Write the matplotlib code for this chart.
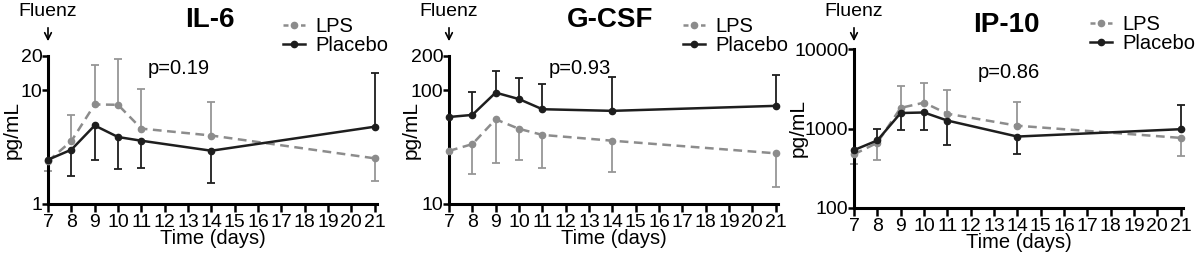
import numpy as np
import matplotlib
matplotlib.use("Agg")
import matplotlib.pyplot as plt
from matplotlib.ticker import FixedLocator, NullLocator, FixedFormatter
from matplotlib.lines import Line2D

plt.rcParams['font.family'] = ['Liberation Sans', 'DejaVu Sans']

days = [7, 8, 9, 10, 11, 14, 21]
x_ticks = list(range(7, 22))

# IL-6
il6_lps = [2.38, 3.57, 7.5, 7.45, 4.6, 4.0, 2.52]
il6_lps_hi = [None, 6.04, 16.8, 18.9, 10.2, 7.9, None]
il6_lps_lo = [1.95, None, None, None, None, None, 1.58]
il6_pla = [2.45, 3.0, 4.9, 3.88, 3.6, 2.94, 4.78]
il6_pla_hi = [None, None, None, None, None, None, 14.2]
il6_pla_lo = [None, 1.75, 2.44, 2.04, 2.09, 1.53, None]

# G-CSF
gcsf_lps = [29.3, 33.6, 55.5, 45.8, 40.5, 36.0, 27.9]
gcsf_lps_hi = [None, None, None, None, None, None, None]
gcsf_lps_lo = [None, 18.2, 22.8, 24.4, 20.8, 19.2, 14.0]
gcsf_pla = [58.2, 60.7, 95.3, 83.6, 68.1, 65.9, 72.9]
gcsf_pla_hi = [None, 97.3, 148.6, 128.0, 113.7, 129.6, 136.0]
gcsf_pla_lo = [None, None, None, None, None, None, None]

# IP-10
ip10_lps = [473, 662, 1818, 2113, 1534, 1084, 762]
ip10_lps_hi = [None, None, 3408, 3760, 3020, 2177, None]
ip10_lps_lo = [354, 407, None, None, None, None, 456]
ip10_pla = [535, 708, 1566, 1590, 1259, 792, 980]
ip10_pla_hi = [None, 1000, None, None, None, None, 1970]
ip10_pla_lo = [None, None, 950, 950, 626, 478, None]

panels = [
    dict(title="IL-6", p="p=0.19", ylim=(1, 20), yticks=[1, 10, 20],
         lps=(il6_lps, il6_lps_lo, il6_lps_hi), pla=(il6_pla, il6_pla_lo, il6_pla_hi),
         box=(48, 377, 56, 204), title_xy=(210, 20), p_xy=(179, 68),
         leg_xy=(283, 17), ylab_x=12, fl_x=48),
    dict(title="G-CSF", p="p=0.93", ylim=(10, 200), yticks=[10, 100, 200],
         lps=(gcsf_lps, gcsf_lps_lo, gcsf_lps_hi), pla=(gcsf_pla, gcsf_pla_lo, gcsf_pla_hi),
         box=(449, 778, 56, 204), title_xy=(610, 20), p_xy=(580, 68),
         leg_xy=(683, 17), ylab_x=411, fl_x=449),
    dict(title="IP-10", p="p=0.86", ylim=(100, 10000), yticks=[100, 1000, 10000],
         lps=(ip10_lps, ip10_lps_lo, ip10_lps_hi), pla=(ip10_pla, ip10_pla_lo, ip10_pla_hi),
         box=(854, 1183, 49, 208), title_xy=(1006, 25), p_xy=(1009, 72),
         leg_xy=(1090, 15), ylab_x=798, fl_x=854),
]

W, H = 1196, 261
fig = plt.figure(figsize=(W / 100, H / 100), dpi=100)

def fx(x):
    return x / W

def fy(y):
    return 1 - y / H

GRAY = '#8c8c8c'
EGRAY = '#969696'
BLACK = '#1e1e1e'

def draw_err(ax, y, lo, hi, color):
    xs, y0, y1 = [], [], []
    for xi, yi, l, h in zip(days, y, lo, hi):
        for bound in (l, h):
            if bound is not None:
                xs.append(xi)
                y0.append(yi)
                y1.append(bound)
    if not xs:
        return
    ax.vlines(xs, y0, y1, colors=color, lw=1.3, zorder=2, clip_on=False)
    ax.plot(xs, y1, ls='none', marker='_', ms=6, mew=1.3, color=color, zorder=2,
            clip_on=False)

for pnl in panels:
    l, r, t, b = pnl['box']
    ax = fig.add_axes([fx(l), fy(b), (r - l) / W, (b - t) / H])
    ax.set_yscale('log')
    ax.set_ylim(*pnl['ylim'])
    ax.set_xlim(7, 21.1)
    for s in ['top', 'right']:
        ax.spines[s].set_visible(False)
    for s in ['left', 'bottom']:
        ax.spines[s].set_linewidth(2.2)
        ax.spines[s].set_color('black')
    ax.xaxis.set_major_locator(FixedLocator(x_ticks))
    ax.set_xticklabels([str(v) for v in x_ticks])
    ax.yaxis.set_major_locator(FixedLocator(pnl['yticks']))
    ax.yaxis.set_major_formatter(FixedFormatter([str(v) for v in pnl['yticks']]))
    ax.yaxis.set_minor_locator(NullLocator())
    ax.tick_params(axis='x', length=6, width=1.8, labelsize=14, pad=1)
    ax.tick_params(axis='y', length=4, width=1.8, labelsize=14, pad=0)
    ax.set_xlabel('Time (days)', fontsize=14.5, labelpad=-1)

    lps, lps_lo, lps_hi = pnl['lps']
    pla, pla_lo, pla_hi = pnl['pla']
    draw_err(ax, lps, lps_lo, lps_hi, EGRAY)
    draw_err(ax, pla, pla_lo, pla_hi, BLACK)
    ax.plot(days, lps, color=GRAY, lw=1.8, ls=(0, (3.5, 2.2)), marker='o', ms=4.5,
            mfc=GRAY, mec=GRAY, clip_on=False, zorder=3)
    ax.plot(days, pla, color=BLACK, lw=1.8, marker='o', ms=4.5,
            mfc=BLACK, mec=BLACK, clip_on=False, zorder=4)

    fig.text(fx(pnl['ylab_x']), fy((t + b) / 2), 'pg/mL', rotation=90, fontsize=15,
             ha='center', va='center')
    fig.text(fx(pnl['title_xy'][0]), fy(pnl['title_xy'][1]), pnl['title'], fontsize=20,
             fontweight='bold', ha='center', va='center')
    fig.text(fx(pnl['p_xy'][0]), fy(pnl['p_xy'][1]), pnl['p'], fontsize=14.5,
             ha='center', va='center')
    fig.text(fx(pnl['fl_x']), fy(12), 'Fluenz', fontsize=14, ha='center', va='center')
    fig.add_artist(matplotlib.patches.FancyArrowPatch(
        (fx(pnl['fl_x']), fy(25)), (fx(pnl['fl_x']), fy(44)), transform=fig.transFigure,
        arrowstyle='->', mutation_scale=12, lw=1.2, color='black'))

    handles = [Line2D([], [], color=GRAY, lw=1.8, ls=(0, (2, 1.5)), marker='o', ms=4.5,
                      mfc=GRAY, mec=GRAY),
               Line2D([], [], color=BLACK, lw=1.8, marker='o', ms=4.5, mfc=BLACK, mec=BLACK)]
    fig.legend(handles, ['LPS', 'Placebo'], loc='upper left',
               bbox_to_anchor=(fx(pnl['leg_xy'][0]), fy(pnl['leg_xy'][1])),
               bbox_transform=fig.transFigure, frameon=False, fontsize=14.5,
               handlelength=1.1, handletextpad=0.5, labelspacing=0.0, borderpad=0,
               borderaxespad=0)

fig.savefig('out.png', dpi=100)
